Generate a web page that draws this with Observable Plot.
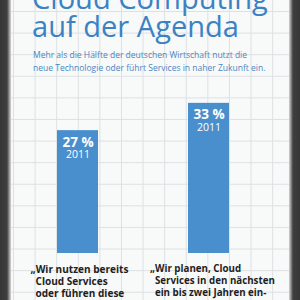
<!DOCTYPE html>
<html>
<head>
<meta charset="utf-8">
<script src="https://cdn.jsdelivr.net/npm/d3@7"></script>
<script src="https://cdn.jsdelivr.net/npm/@observablehq/plot@0.6"></script>
<style>
  html, body { margin: 0; padding: 0; background: #fff; }
  #board {
    position: relative; width: 300px; height: 300px; overflow: hidden;
    background-color: #f8f9f9;
    background-image:
      linear-gradient(to right, #dde1e4 1px, transparent 1px),
      linear-gradient(to bottom, #dde1e4 1px, transparent 1px);
    background-size: 21.6px 21.6px;
    background-position: 13px 11px;
    font-family: "Open Sans", sans-serif;
  }
  .frameL { position: absolute; left: 0; top: 0; width: 11px; height: 300px;
    background: linear-gradient(to right, #363636 0px, #3e3e3e 7px, #8c8c8c 9px, #d6d6d6 11px); z-index: 3; }
  .frameR { position: absolute; right: 0; top: 0; width: 11px; height: 300px;
    background: linear-gradient(to left, #363636 0px, #3e3e3e 7px, #8c8c8c 9px, #d6d6d6 11px); z-index: 3; }
  #title { position: absolute; left: 32px; top: -16px; color: #3b82c4;
    font-family: "Open Sans", sans-serif;
    font-size: 30px; line-height: 28px; font-weight: 400; white-space: nowrap; }
  #subtitle { position: absolute; left: 33px; top: 48px; color: #4a87c2;
    font-family: "Open Sans", sans-serif;
    font-size: 10.5px; line-height: 13px; white-space: nowrap; }
  #title span, #subtitle span { display: inline-block; }
  #chart { position: absolute; left: 0; top: 0; }
</style>
</head>
<body>
<div id="board">
  <div class="frameL"></div>
  <div class="frameR"></div>
  <div id="title"></div>
  <div id="subtitle"></div>
  <div id="chart"></div>
</div>
<script>
const titleLines = ["Cloud Computing", "auf der Agenda"];
const subtitleLines = [
  "Mehr als die Hälfte der deutschen Wirtschaft nutzt die",
  "neue Technologie oder führt Services in naher Zukunft ein."
];
const categories = ["nutzen", "planen"];
const values = [27, 33];
const years = ["2011", "2011"];
const quotes = [
  "„Wir nutzen bereits\n\u2002Cloud Services\n\u2002oder führen diese",
  "„Wir planen, Cloud\n\u2002Services in den nächsten\n\u2002ein bis zwei Jahren ein-"
];

function fillLines(id, lines) {
  const el = document.getElementById(id);
  el.innerHTML = lines.map(l => `<span>${l}</span>`).join("<br>");
  return el;
}
// scale an HTML block's font so that a given line reaches a target width
function fitHTML(el, lineIndex, target) {
  const span = el.querySelectorAll("span")[lineIndex];
  const fs = parseFloat(getComputedStyle(el).fontSize);
  const w = span.getBoundingClientRect().width;
  el.style.fontSize = (fs * target / w) + "px";
}
const titleEl = fillLines("title", titleLines);
const subEl = fillLines("subtitle", subtitleLines);
fitHTML(titleEl, 1, 207);
fitHTML(subEl, 1, 233);

const data = categories.map((c, i) => ({cat: c, value: values[i], year: years[i], quote: quotes[i]}));
const blue = "#4a8fcd";

const chart = Plot.plot({
  width: 300,
  height: 300,
  marginTop: 0,
  marginBottom: 47,
  marginLeft: 57,
  marginRight: 70,
  style: {background: "transparent", overflow: "visible"},
  x: {type: "band", domain: categories, paddingInner: 0.684, paddingOuter: 0, axis: null},
  y: {domain: [0, 55.6], axis: null},
  marks: [
    Plot.barY(data, {x: "cat", y: "value", fill: blue}),
    Plot.text(data, {x: "cat", y: "value", text: d => `${d.value} %`, fill: "white",
      fontWeight: "bold", fontSize: 13.5, lineAnchor: "bottom", dy: 16, fontFamily: "Open Sans"}),
    Plot.text(data, {x: "cat", y: "value", text: "year", fill: "white",
      fontSize: 10.5, lineAnchor: "bottom", dy: 27.5, fontFamily: "Open Sans"}),
    Plot.text(data.filter((d, i) => i === 0), {x: "cat", y: () => 0, text: "quote", textAnchor: "start",
      lineAnchor: "top", dy: 12, dx: -47.5, fontSize: 12, fontWeight: "bold", lineHeight: 1.0,
      fill: "#1e1e1e", fontFamily: "Open Sans, sans-serif"}),
    Plot.text(data.filter((d, i) => i === 1), {x: "cat", y: () => 0, text: "quote", textAnchor: "start",
      lineAnchor: "top", dy: 12, dx: -59, fontSize: 12, fontWeight: "bold", lineHeight: 1.0,
      fill: "#1e1e1e", fontFamily: "Open Sans, sans-serif"})
  ]
});
document.getElementById("chart").appendChild(chart);

// fit the quote blocks: left first line ~98px wide, right second line ~125px wide
const quoteGroups = chart.querySelectorAll('g[font-family="Open Sans, sans-serif"]');
const targets = [[0, 98], [1, 125]];
quoteGroups.forEach((g, k) => {
  const [li, tw] = targets[k];
  const tspans = g.querySelectorAll("tspan");
  const w = tspans[li].getComputedTextLength();
  const fs = 12 * tw / w;
  g.setAttribute("font-size", fs);
  tspans.forEach((t, j) => { if (j > 0) t.setAttribute("dy", (12 / fs) + "em"); });
});
</script>
</body>
</html>
